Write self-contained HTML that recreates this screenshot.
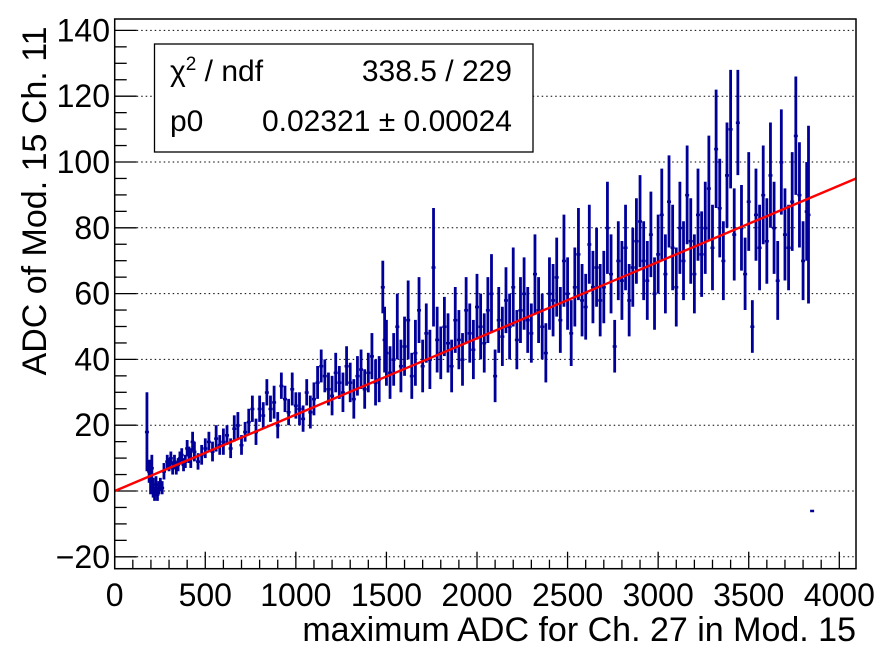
<!DOCTYPE html>
<html><head><meta charset="utf-8"><style>
html,body{margin:0;padding:0;background:#fff}
svg{display:block;font-family:"Liberation Sans",Arial,sans-serif}
</style></head><body>
<svg id="chart" width="894" height="658" viewBox="0 0 894 658">
<rect x="0" y="0" width="894" height="658" fill="#fff"/>
<g id="grid"></g>
<g id="axes"></g>
<g id="points"></g>
<g id="fit"></g>
<rect x="114.7" y="19" width="741.3" height="549.7" fill="none" stroke="#000" stroke-width="1.5"/>
<g>
<rect x="154.5" y="44" width="378.5" height="108" fill="#fff" stroke="#000" stroke-width="1.3"/>
<text x="170" y="81" font-size="30">χ<tspan dy="-11" font-size="19">2</tspan><tspan dy="11"> / ndf</tspan></text>
<text x="512" y="81" font-size="30" text-anchor="end">338.5 / 229</text>
<text x="170" y="131" font-size="30">p0</text>
<text x="512" y="131" font-size="30" text-anchor="end">0.02321 ± 0.00024</text>
</g>
<text x="856" y="641" font-size="34" text-anchor="end">maximum ADC for Ch. 27 in Mod. 15</text>
<text transform="translate(46,201) rotate(-90)" font-size="34" text-anchor="middle">ADC of Mod. 15  Ch. 11</text>
</svg>
<script>
const xTicks = [0, 500, 1000, 1500, 2000, 2500, 3000, 3500, 4000];
const yTicks = [-20, 0, 20, 40, 60, 80, 100, 120, 140];
const fitSlope = [0.02321];
const adc = [178,190,198,205,212,220,228,236,244,252,262,272,290,300,310,320,330,340,350,360,370,380,390,400,410,420,430,440,460,480,500,520,540,560,580,600,620,640,660,680,700,720,740,760,780,800,820,840,860,880,900,920,940,960,980,1000,1020,1040,1060,1080,1100,1120,1140,1160,1180,1200,1220,1240,1260,1280,1300,1320,1340,1360,1380,1400,1420,1440,1460,1480,1490,1500,1520,1540,1560,1580,1600,1620,1640,1660,1680,1700,1720,1740,1760,1780,1800,1820,1840,1860,1880,1900,1920,1940,1960,1980,2000,2020,2040,2060,2080,2100,2120,2140,2160,2180,2200,2220,2240,2260,2280,2300,2320,2340,2360,2380,2400,2420,2440,2460,2480,2500,2520,2540,2560,2580,2600,2620,2640,2660,2680,2700,2720,2740,2760,2780,2800,2820,2840,2860,2880,2900,2920,2940,2960,2980,3000,3020,3040,3060,3080,3100,3120,3140,3160,3180,3200,3220,3240,3260,3280,3300,3320,3340,3360,3380,3400,3420,3440,3460,3480,3500,3520,3540,3560,3580,3600,3620,3640,3660,3680,3700,3720,3740,3760,3780,3800,3820,3830,3850];
const val = [18,6,3,7,1,-1,2,-1,1,2,1,6,9,8,10,7,9,7,8,10,11,8,9,13,11,10,15,12,9,11,13,15,12,16,14,15,17,13,19,20,14,18,21,25,18,25,23,30,25,27,20,32,28,24,31,26,25,22,30,24,28,33,38,35,31,29,36,33,30,38,33,28,35,37,31,36,41,33,34,62,46,42,36,40,50,38,44,52,35,42,55,38,48,40,68,46,42,50,45,38,52,46,40,55,48,43,56,50,45,55,60,35,52,47,58,50,62,46,55,60,52,48,66,55,50,42,60,58,65,52,70,60,48,62,72,58,56,75,62,68,58,62,80,66,44,70,64,74,58,68,76,82,70,64,78,60,72,84,66,88,74,62,80,70,90,76,66,84,72,80,92,74,104,86,70,96,110,78,112,80,66,88,50,84,74,90,76,96,80,64,100,78,74,88,108,90,70,85,84,-6];
const err = [12,3.5,4,4,3,2,2.5,2,2,2,2,2.5,2,2,2,2,2,2,2,2,2,2,2,2.5,2.5,3,3,3,2.5,3,3,3,3,4,3,4,3,3,4,4,3,3,4,4,4,4,4,4,4,5,4,4,4,4,5,4,5,4,4,5,5,5,5,5,5,6,6,5,6,6,6,6,6,6,6,6,7,7,7,8,10,10,8,8,10,8,9,12,7,10,10,8,9,9,18,10,8,9,9,8,10,9,8,10,9,9,10,10,9,10,12,8,10,9,10,10,12,9,10,11,10,9,12,10,10,9,11,11,12,10,14,11,10,12,14,11,10,12,11,12,11,11,14,12,8,12,12,13,11,12,13,14,12,12,13,11,12,14,12,14,13,12,14,12,15,13,12,14,13,14,16,13,18,15,12,16,18,14,16,13,11,15,8,14,13,15,13,16,14,12,16,14,13,15,18,16,12,15,27,0.2];

const NS = 'http://www.w3.org/2000/svg';
const X0 = 114.7, X1 = 856, Y0 = 568.7, Y1 = 19;
const sx = v => 114.7 + v * 0.18115;
const sy = v => 491 - v * 3.29;
function mk(tag, attrs, parent) {
  const e = document.createElementNS(NS, tag);
  for (const k in attrs) e.setAttribute(k, attrs[k]);
  parent.appendChild(e);
  return e;
}
const axes = document.getElementById('axes');
const grid = document.getElementById('grid');
for (let v = 0; v <= 4000; v += 100) {
  const major = v % 500 === 0;
  const t = mk('line', {x1: sx(v), x2: sx(v), y1: Y0, y2: Y0 - (major ? 17 : 9), stroke: '#000', 'stroke-width': 1.3}, axes);
  
  
}
xTicks.forEach(v => {
  const t = mk('text', {x: sx(v), y: 606, 'font-size': 32, 'text-anchor': 'middle'}, axes);
  t.textContent = v;
  
  
});
for (let v = -20; v <= 140; v += 5) {
  const major = v % 20 === 0;
  const t = mk('line', {x1: X0, x2: X0 + (major ? 22 : 12), y1: sy(v), y2: sy(v), stroke: '#000', 'stroke-width': 1.3}, axes);
  
  
}
yTicks.forEach(v => {
  const g = mk('line', {x1: X0 + 22, x2: X1, y1: sy(v), y2: sy(v), stroke: '#000', 'stroke-width': 1, 'stroke-dasharray': '1.5,3'}, grid);
  
  
  const t = mk('text', {x: 110, y: sy(v) + 11, 'font-size': 32, 'text-anchor': 'end'}, axes);
  t.textContent = v < 0 ? '\u2212' + (-v) : v;
  
  
});
const pts = document.getElementById('points');
adc.forEach((x, i) => {
  const px = sx(x);
  const top = Math.max(Y1, sy(val[i] + err[i])), bot = Math.min(Y0, sy(val[i] - err[i]));
  const b = mk('line', {x1: px, x2: px, y1: top, y2: bot, stroke: '#000099', 'stroke-width': 2.8}, pts);
  
  
  const m = mk('rect', {x: px - 2, y: sy(val[i]) - 1, width: 4, height: 2.5, fill: '#000099'}, pts);
  
  
});
const fit = document.getElementById('fit');
const xe = 4094;
const fl = mk('line', {x1: sx(0), y1: sy(0), x2: sx(xe), y2: sy(fitSlope[0] * xe), stroke: '#ff0000', 'stroke-width': 2.4}, fit);


</script>
</body></html>
